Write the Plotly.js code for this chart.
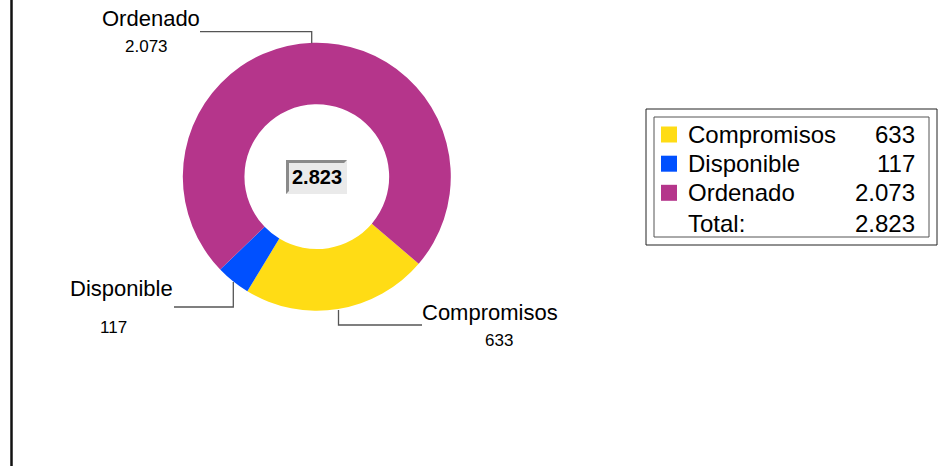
<!DOCTYPE html>
<html>
<head>
<meta charset="utf-8">
<script src="https://cdn.plot.ly/plotly-3.0.1.min.js"></script>
<style>
  html, body { margin: 0; padding: 0; background: #fff; }
  #chart { width: 951px; height: 466px; }
</style>
</head>
<body>
<div id="chart"></div>
<script>
// ---- data ----
const categories = ['Compromisos', 'Disponible', 'Ordenado'];
const values = [633, 117, 2073];
const colors = ['#FFDC15', '#0050FF', '#B5358B'];
const totalText = 'Total:';

// ---- helpers ----
const W = 951, H = 466;
const px = x => x / W;
const py = y => 1 - y / H;
function fmt(n) {
  const s = String(Math.round(n));
  return s.replace(/\B(?=(\d{3})+(?!\d))/g, '.');
}
const total = values.reduce((a, b) => a + b, 0);

const FONT = 'Liberation Sans, Arial, sans-serif';

const trace = {
  type: 'pie',
  labels: categories,
  values: values,
  marker: { colors: colors, line: { width: 0 } },
  hole: 0.54,
  sort: false,
  direction: 'clockwise',
  rotation: 130.5,
  textinfo: 'none',
  hoverinfo: 'label+value',
  showlegend: false,
  domain: { x: [px(182.8), px(450.8)], y: [py(310.7), py(42.7)] }
};

// outside label positions (px) for each category
const labelPos = {
  'Compromisos': { name: [490, 312.5], val: [498.8, 340.5], line: [[422, 325], [338.5, 325], [338.5, 310]] },
  'Disponible':  { name: [121, 288.8], val: [113.7, 327],   line: [[174, 307], [233.3, 307], [233.3, 282]] },
  'Ordenado':    { name: [150.5, 18.8], val: [146.7, 46.3], line: [[200, 31.7], [311.7, 31.7], [311.7, 43.3]] }
};

const annotations = [];
const shapes = [];

// left frame line
shapes.push({ type: 'line', xref: 'paper', yref: 'paper', x0: px(11.5), x1: px(11.5), y0: 0, y1: 1,
  line: { color: '#111', width: 2.5 } });

categories.forEach((c, i) => {
  const p = labelPos[c];
  annotations.push({ xref: 'paper', yref: 'paper', x: px(p.name[0]), y: py(p.name[1]),
    xanchor: 'center', yanchor: 'middle', showarrow: false, text: c,
    font: { family: FONT, size: 22, color: '#000' } });
  annotations.push({ xref: 'paper', yref: 'paper', x: px(p.val[0]), y: py(p.val[1]),
    xanchor: 'center', yanchor: 'middle', showarrow: false, text: fmt(values[i]),
    font: { family: FONT, size: 17, color: '#000' } });
  const path = p.line.map((pt, k) => (k === 0 ? 'M ' : 'L ') + px(pt[0]) + ',' + py(pt[1])).join(' ');
  shapes.push({ type: 'path', xref: 'paper', yref: 'paper', path: path,
    line: { color: '#555', width: 1.3 } });
});

// center bevelled box
shapes.push({ type: 'rect', xref: 'paper', yref: 'paper', x0: px(286), x1: px(347), y0: py(194), y1: py(160),
  fillcolor: '#EAEAEA', line: { width: 0 } });
const bevel = [[286, 160], [347, 160], [344, 163], [289, 163], [289, 191], [286, 194]];
shapes.push({ type: 'path', xref: 'paper', yref: 'paper',
  path: bevel.map((pt, k) => (k === 0 ? 'M ' : 'L ') + px(pt[0]) + ',' + py(pt[1])).join(' ') + ' Z',
  fillcolor: '#8A8A8A', line: { width: 0 } });
annotations.push({ xref: 'paper', yref: 'paper', x: px(317), y: py(177), xanchor: 'center', yanchor: 'middle',
  showarrow: false, text: '<b>' + fmt(total) + '</b>', font: { family: FONT, size: 20, color: '#000' } });

// legend box
shapes.push({ type: 'rect', xref: 'paper', yref: 'paper', x0: px(646), x1: px(937), y0: py(245), y1: py(109),
  line: { color: '#222', width: 1 } });
shapes.push({ type: 'rect', xref: 'paper', yref: 'paper', x0: px(654), x1: px(929), y0: py(237), y1: py(117),
  line: { color: '#555', width: 1 } });
const rowY = [134.5, 163.7, 192.8, 224];
categories.forEach((c, i) => {
  const y = rowY[i];
  shapes.push({ type: 'rect', xref: 'paper', yref: 'paper', x0: px(661), x1: px(677), y0: py(y + 8), y1: py(y - 8),
    fillcolor: colors[i], line: { width: 0 } });
  annotations.push({ xref: 'paper', yref: 'paper', x: px(686), y: py(y), xanchor: 'left', yanchor: 'middle',
    showarrow: false, text: c, font: { family: FONT, size: 24, color: '#000' } });
  annotations.push({ xref: 'paper', yref: 'paper', x: px(917), y: py(y), xanchor: 'right', yanchor: 'middle',
    showarrow: false, text: fmt(values[i]), font: { family: FONT, size: 24, color: '#000' } });
});
annotations.push({ xref: 'paper', yref: 'paper', x: px(686), y: py(rowY[3]), xanchor: 'left', yanchor: 'middle',
  showarrow: false, text: totalText, font: { family: FONT, size: 24, color: '#000' } });
annotations.push({ xref: 'paper', yref: 'paper', x: px(917), y: py(rowY[3]), xanchor: 'right', yanchor: 'middle',
  showarrow: false, text: fmt(total), font: { family: FONT, size: 24, color: '#000' } });

const layout = {
  width: W, height: H, autosize: false,
  margin: { l: 0, r: 0, t: 0, b: 0, pad: 0 },
  paper_bgcolor: '#fff', plot_bgcolor: '#fff',
  showlegend: false,
  font: { family: FONT },
  annotations: annotations,
  shapes: shapes
};

Plotly.newPlot('chart', [trace], layout, { displayModeBar: false, staticPlot: true });
</script>
</body>
</html>
